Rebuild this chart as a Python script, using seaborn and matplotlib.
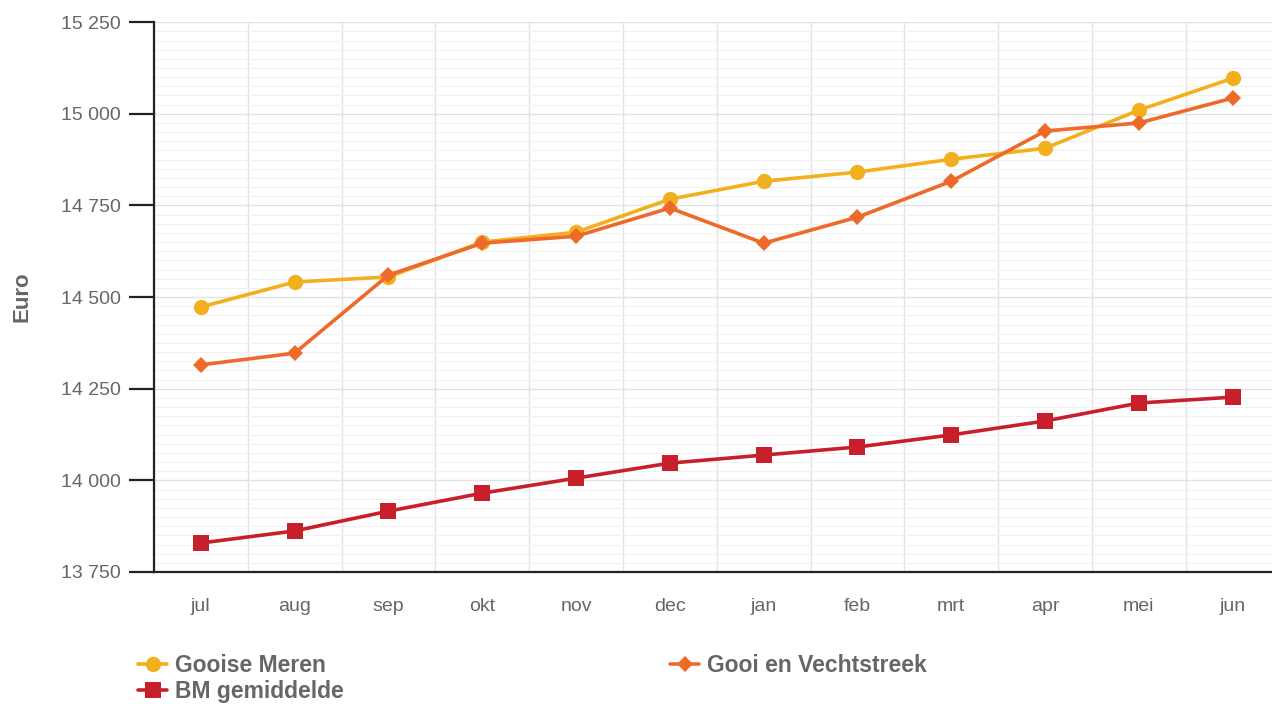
import numpy as np
import pandas as pd
import matplotlib
matplotlib.use("Agg")
import matplotlib.pyplot as plt
from matplotlib.ticker import MultipleLocator, FuncFormatter
import seaborn as sns

# ------------------- Données -------------------
months = ["jul", "aug", "sep", "okt", "nov", "dec",
          "jan", "feb", "mrt", "apr", "mei", "jun"]

gooise_meren = [14473, 14541, 14555, 14650, 14677, 14767,
                14816, 14841, 14876, 14906, 15010, 15097]
gooi_vecht = [14315, 14347, 14560, 14647, 14666, 14743,
              14647, 14718, 14816, 14953, 14975, 15043]
bm_gemiddelde = [13829, 13862, 13916, 13965, 14006, 14047,
                 14069, 14091, 14124, 14162, 14211, 14227]

series_names = ["Gooise Meren", "Gooi en Vechtstreek", "BM gemiddelde"]
colors = ["#F2B01E", "#EE6A2A", "#C8202B"]
markers = ["o", "D", "s"]
marker_sizes = [11, 8, 11]

df = pd.DataFrame({
    "maand": months * 3,
    "pos": list(range(len(months))) * 3,
    "waarde": gooise_meren + gooi_vecht + bm_gemiddelde,
    "reeks": [series_names[0]] * 12 + [series_names[1]] * 12 + [series_names[2]] * 12,
})

# ------------------- Figure -------------------
sns.set_style("white")
plt.rcParams["font.family"] = ["Liberation Sans", "DejaVu Sans"]

fig = plt.figure(figsize=(12.72, 7.04), dpi=100)
ax = fig.add_axes([0.121, 0.1875, 0.885, 0.781])

handles = []
for name, col, mk, ms in zip(series_names, colors, markers, marker_sizes):
    sub = df[df["reeks"] == name]
    sns.lineplot(data=sub, x="pos", y="waarde", ax=ax, color=col,
                 linewidth=2.6, marker=mk, markersize=ms,
                 markeredgewidth=0, label=name, legend=False)
    handles.append(ax.lines[-1])

# Axes
ax.set_xlim(-0.5, 11.5)
ax.set_ylim(13750, 15250)
ax.set_xticks(range(len(months)))
ax.set_xticklabels(months)
ax.set_xlabel("")
ax.set_ylabel("Euro", fontsize=16, fontweight="bold", color="#666666", labelpad=20)

ax.yaxis.set_major_locator(MultipleLocator(250))
ax.yaxis.set_minor_locator(MultipleLocator(25))
ax.xaxis.set_minor_locator(MultipleLocator(1, offset=0.5))
ax.yaxis.set_major_formatter(FuncFormatter(lambda v, p: f"{int(v):,}".replace(",", " ")))

ax.grid(True, which="major", axis="y", color="#e2e2e2", linewidth=1)
ax.grid(True, which="minor", axis="y", color="#f1f1f1", linewidth=0.8)
ax.grid(True, which="minor", axis="x", color="#e2e2e2", linewidth=1)
ax.set_axisbelow(True)

for s in ["top", "right"]:
    ax.spines[s].set_visible(False)
ax.spines["left"].set_color("#222222")
ax.spines["bottom"].set_color("#222222")
ax.spines["left"].set_linewidth(1.6)
ax.spines["bottom"].set_linewidth(1.6)

ax.tick_params(axis="y", which="major", direction="out", length=18, width=1.6,
               color="#222222", labelsize=14, labelcolor="#666666", pad=6, left=True)
ax.tick_params(axis="y", which="minor", length=0)
ax.tick_params(axis="x", which="both", length=0, labelsize=14,
               labelcolor="#666666", pad=19)

# Légende
order = [0, 2, 1]
fig.legend([handles[i] for i in order], [series_names[i] for i in order],
           loc="upper left", bbox_to_anchor=(0.092, 0.1), ncol=2,
           frameon=False, columnspacing=14.2, handlelength=1.3,
           handletextpad=0.35, labelspacing=0.12,
           prop={"size": 16.5, "weight": "bold"}, labelcolor="#666666")

fig.savefig("out.png", dpi=100)
